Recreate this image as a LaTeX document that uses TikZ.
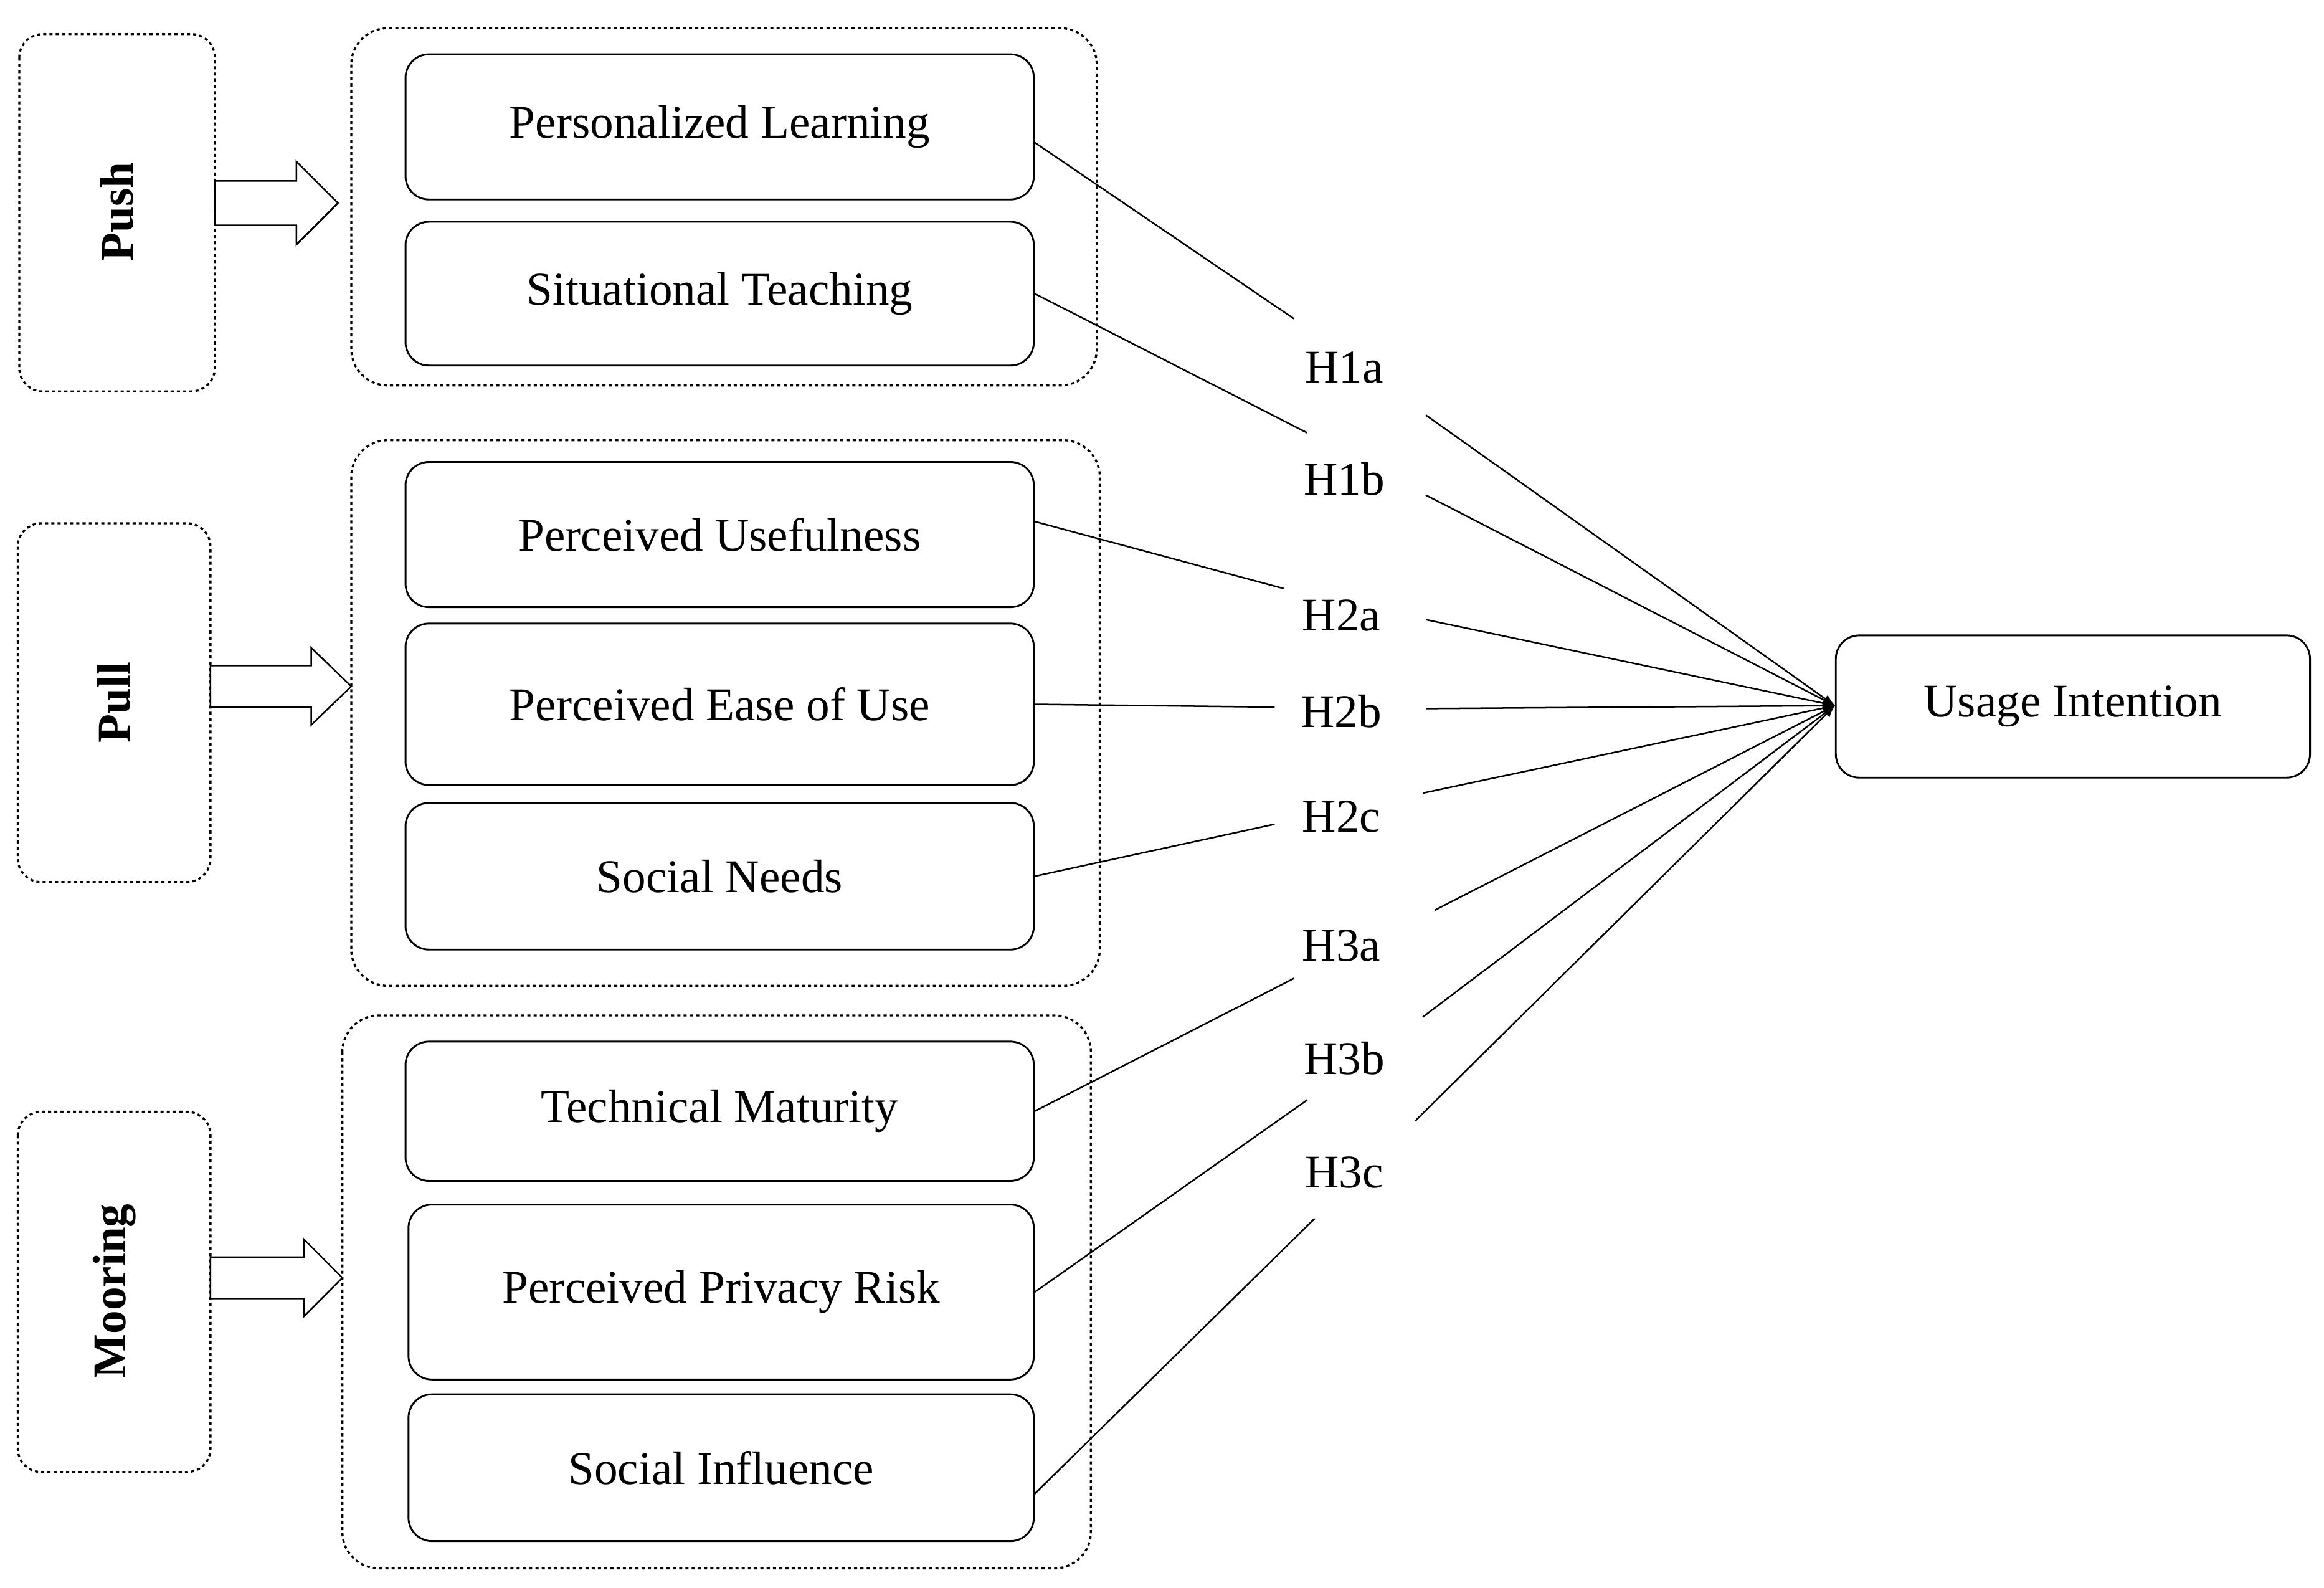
\documentclass[tikz,border=0pt]{standalone}
\usepackage{fontspec}
\setmainfont{Liberation Serif}
\begin{document}
\begin{tikzpicture}[x=0.02cm,y=-0.02cm,
 grp/.style={draw,line width=0.8pt,dash pattern=on 1.2pt off 1.2pt,rounded corners=14pt},
 side/.style={draw,line width=0.8pt,dash pattern=on 1.2pt off 1.2pt,rounded corners=9pt},
 box/.style={draw,line width=0.7pt,rounded corners=9pt,font=\fontsize{18}{21}\selectfont},
 lbl/.style={font=\fontsize{18}{21}\selectfont},
 ln/.style={line width=0.6pt},
 barrow/.style={draw,line width=0.6pt,fill=white}]
\useasboundingbox (0,0) rectangle (1568,1071);
% side boxes
\draw[side] (13,23) rectangle (145,264);
\node[rotate=90,font=\bfseries\fontsize{18}{21}\selectfont] (push) at (79,143) {Push};
\draw[side] (12,353) rectangle (142,595);
\node[rotate=90,font=\bfseries\fontsize{18}{21}\selectfont] (pull) at (77,474) {Pull};
\draw[side] (12,750) rectangle (142,993);
\node[rotate=90,font=\bfseries\fontsize{18}{21}\selectfont] (moor) at (77,871) {Mooring};
% group boxes
\draw[grp] (237,19) rectangle (740,260);
\draw[grp] (237,297) rectangle (742,665);
\draw[grp] (231,685) rectangle (736,1058);
% block arrows
\draw[barrow] (145,122)--(200,122)--(200,109)--(228,137)--(200,165)--(200,152)--(145,152)--cycle;
\draw[barrow] (142,449)--(210,449)--(210,437)--(237,463)--(210,489)--(210,477)--(142,477)--cycle;
\draw[barrow] (142,848)--(205,848)--(205,836)--(231,862)--(205,888)--(205,876)--(142,876)--cycle;
% inner boxes
\node[box,anchor=north west,minimum width=8.48cm,minimum height=1.96cm] (pl) at (273,36) {Personalized Learning};
\node[box,anchor=north west,minimum width=8.48cm,minimum height=1.94cm] (st) at (273,149) {Situational Teaching};
\node[box,anchor=north west,minimum width=8.48cm,minimum height=1.96cm] (pu) at (273,311) {Perceived Usefulness};
\node[box,anchor=north west,minimum width=8.48cm,minimum height=2.18cm] (peu) at (273,420) {Perceived Ease of Use};
\node[box,anchor=north west,minimum width=8.48cm,minimum height=1.98cm] (sn) at (273,541) {Social Needs};
\node[box,anchor=north west,minimum width=8.48cm,minimum height=1.88cm] (tm) at (273,702) {Technical Maturity};
\node[box,anchor=north west,minimum width=8.44cm,minimum height=2.36cm] (ppr) at (275,812) {Perceived Privacy Risk};
\node[box,anchor=north west,minimum width=8.44cm,minimum height=1.98cm] (si) at (275,940) {Social Influence};
\node[box,anchor=north west,minimum width=6.4cm,minimum height=1.92cm] (ui) at (1238,428) {Usage Intention};
% labels
\node[lbl] (h1a) at (907,248) {H1a};
\node[lbl] (h1b) at (907,323) {H1b};
\node[lbl] (h2a) at (905,415) {H2a};
\node[lbl] (h2b) at (905,480) {H2b};
\node[lbl] (h2c) at (905,551) {H2c};
\node[lbl] (h3a) at (905,638) {H3a};
\node[lbl] (h3b) at (907,714) {H3b};
\node[lbl] (h3c) at (907,791) {H3c};
% connector coordinates
\coordinate (a1) at (873,215); \coordinate (b1) at (962,280);
\coordinate (a2) at (882,292); \coordinate (b2) at (962,334);
\coordinate (a3) at (866,397); \coordinate (b3) at (962,418);
\coordinate (a4) at (860,477); \coordinate (b4) at (962,478);
\coordinate (a5) at (860,556); \coordinate (b5) at (960,535);
\coordinate (a6) at (873,660); \coordinate (b6) at (968,614);
\coordinate (a7) at (882,742); \coordinate (b7) at (960,686);
\coordinate (a8) at (887,822); \coordinate (b8) at (955,756);
\coordinate (ue) at (1238,476);
\draw[ln] ([yshift=-6]pl.east)--(a1); \draw[ln,-latex] (b1)--(ue);
\draw[ln] (st.east)--(a2); \draw[ln,-latex] (b2)--(ue);
\draw[ln] ([yshift=5]pu.east)--(a3); \draw[ln,-latex] (b3)--(ue);
\draw[ln] (peu.east)--(a4); \draw[ln,-latex] (b4)--(ue);
\draw[ln] (sn.east)--(a5); \draw[ln,-latex] (b5)--(ue);
\draw[ln] (tm.east)--(a6); \draw[ln,-latex] (b6)--(ue);
\draw[ln] (ppr.east)--(a7); \draw[ln,-latex] (b7)--(ue);
\draw[ln] ([yshift=-10]si.east)--(a8); \draw[ln,-latex] (b8)--(ue);
\end{tikzpicture}
\end{document}
